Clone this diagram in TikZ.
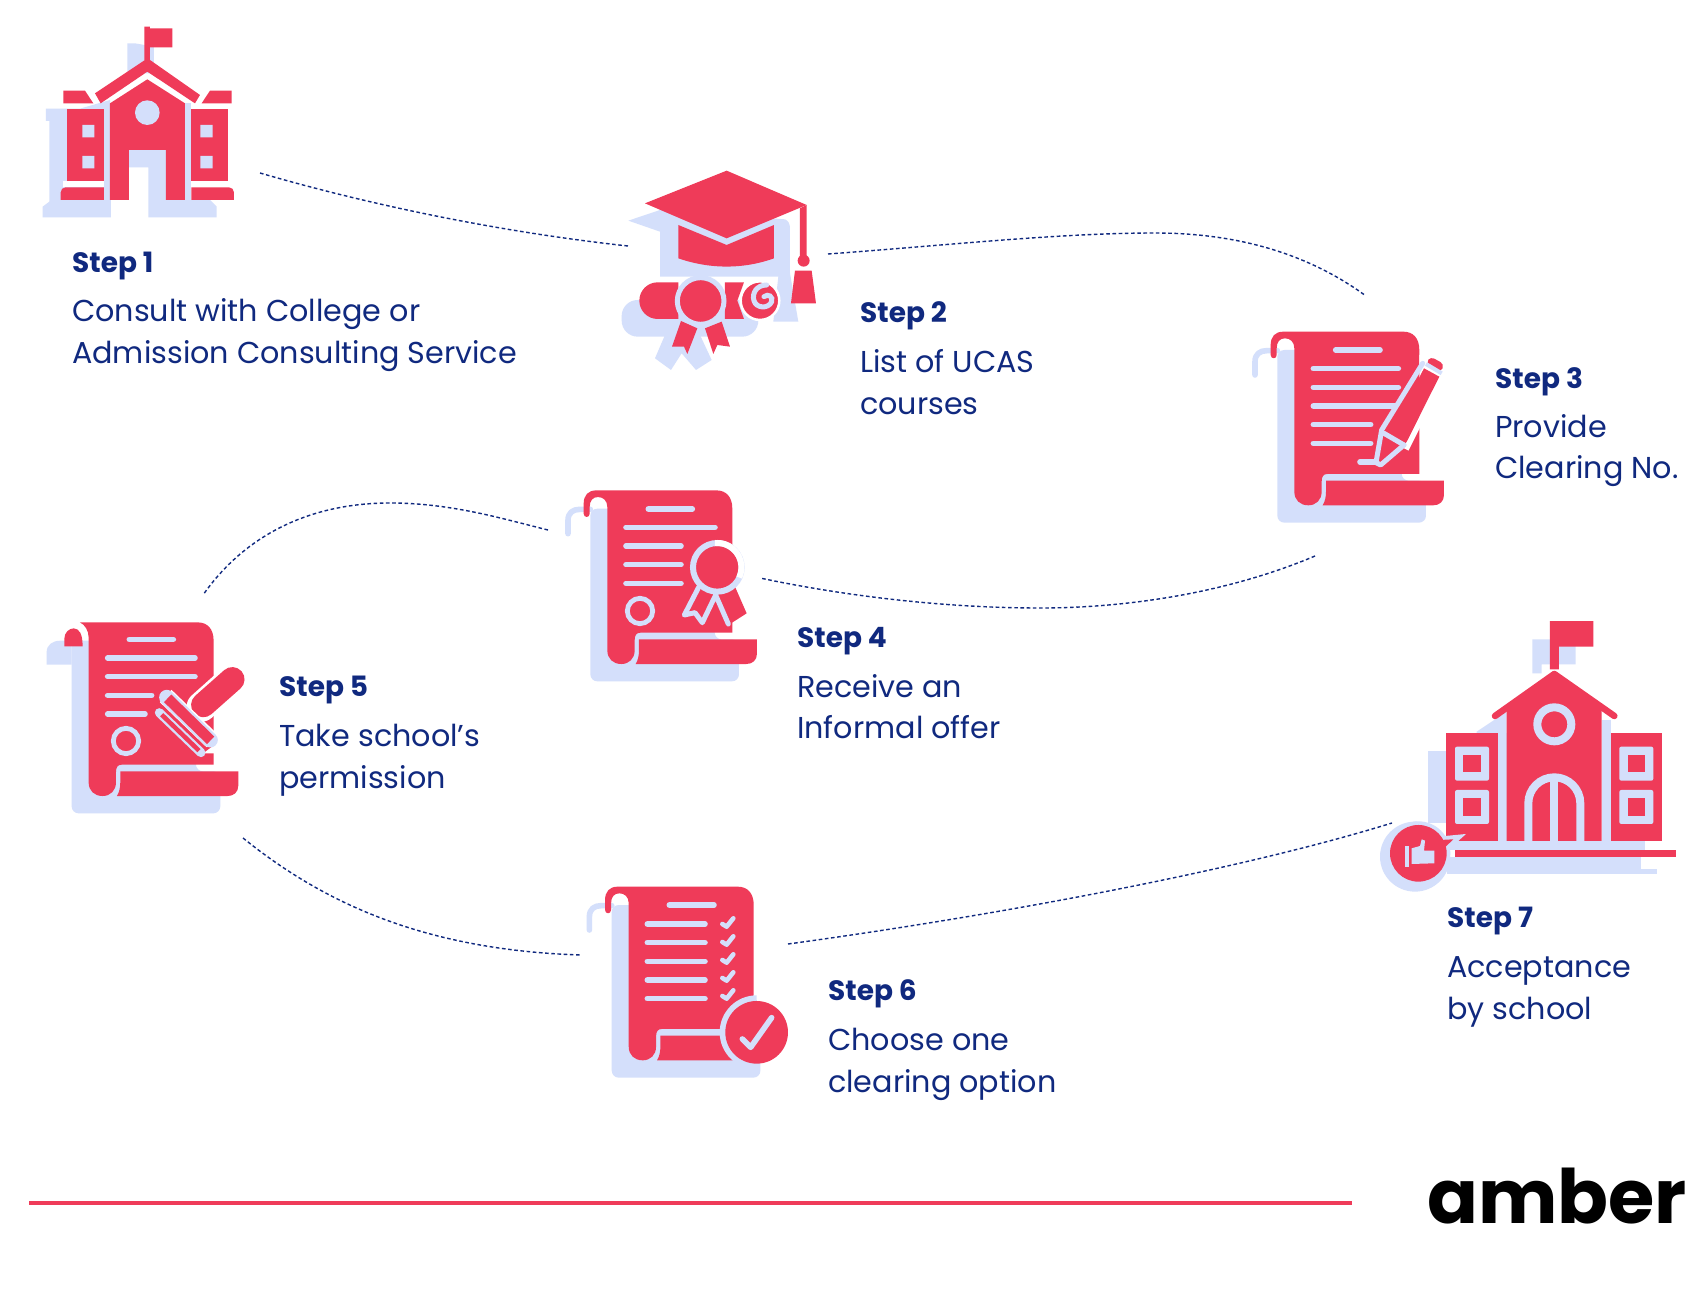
\documentclass[tikz,border=0pt]{standalone}
\usepackage{fontspec}
\setmainfont{Poppins}
\definecolor{rd}{HTML}{EF3B59}
\definecolor{pale}{HTML}{D4DFFB}
\definecolor{navy}{HTML}{10297F}
\tikzset{
  zu/.style={x=0.3333pt,y=-0.3333pt},
  stepname/.style={anchor=base west,inner sep=0pt,text=navy,font=\fontsize{28}{32}\selectfont\bfseries},
  stepline/.style={anchor=base west,inner sep=0pt,text=navy,font=\fontsize{30.2}{36}\selectfont},
  link/.style={draw=navy,line width=1.4pt,dash pattern=on 3.6pt off 2.6pt},
  pl/.style={draw=pale,line width=5.6pt,line cap=round,line join=round}
}
\newcommand\scrShadow{\fill[pale,rounded corners=7pt] (112,90) -- (112,608) -- (558,608) -- (558,482) -- (485,482) -- (485,90) -- cycle;}
\newcommand\scrCurl{\draw[pl] (45,165) -- (45,125) .. controls (45,102) and (60,92) .. (80,92) -- (112,92);}
\newcommand\scrFold{\fill[rd] (258,482) -- (612,482) -- (612,525) .. controls (612,545) and (598,556) .. (580,556) -- (248,556) .. controls (255,545) and (258,530) .. (258,515) -- cycle;}
\newcommand\scrLower{(490,35) .. controls (520,35) and (538,55) .. (538,90) -- (538,462) -- (262,462) .. controls (250,462) and (245,470) .. (245,485) -- (245,515) .. controls (245,540) and (228,556) .. (205,556) .. controls (180,556) and (163,540) .. (163,515)}
\newcommand\scrBodyA{\fill[rd] (92,105) -- (92,75) .. controls (92,50) and (105,35) .. (130,35) -- \scrLower -- (163,85) .. controls (163,65) and (150,55) .. (135,55) .. controls (120,55) and (110,65) .. (110,85) -- (110,105) .. controls (110,118) and (92,118) .. (92,105) -- cycle;}
\newcommand\scrBodyB{\fill[rd] (137,35) -- \scrLower -- (163,80) .. controls (163,60) and (152,42) .. (137,35) -- cycle;
 \fill[rd] (90,107) -- (90,85) .. controls (90,65) and (105,53) .. (118,53) .. controls (135,53) and (145,70) .. (145,107) -- cycle;}
\newcommand\hl[3]{\draw[pl] (#2,#1) -- (#3,#1);}
\begin{document}
\begin{tikzpicture}[x=1pt,y=-1pt]
\useasboundingbox (0,0) rectangle (1708,1297);
\fill[white] (0,0) rectangle (1708,1297);

% ---------- Step 1 icon
\begin{scope}[shift={(30,10)},zu]
\fill[pale] (292,100) -- (315,100) -- (372,110) -- (372,190) -- (292,190) -- cycle;
\fill[pale] (48,296) -- (150,296) -- (240,270) -- (243,622) -- (38,622) -- (38,590) -- (58,575) -- (58,333) -- (48,333) -- cycle;
\fill[pale] (297,420) -- (408,420) -- (408,570) -- (540,570) -- (560,590) -- (560,622) -- (355,622) -- (355,472) -- (297,472) -- cycle;
\fill[pale] (222,280) rectangle (240,570);
\fill[pale] (465,280) rectangle (483,570);
\fill[white] (100,513) rectangle (222,531);
\fill[white] (484,513) rectangle (605,531);
\fill[rd] (343,50) -- (360,50) -- (360,55) -- (427,55) -- (427,112) -- (360,112) -- (360,150) -- (343,150) -- cycle;
\fill[rd] (195,250) -- (345,150) -- (360,150) -- (510,255) -- (495,280) -- (352,185) -- (212,280) -- cycle;
\fill[rd] (240,280) -- (352,208) -- (465,280) -- (465,570) -- (408,570) -- (408,420) -- (297,420) -- (297,570) -- (240,570) -- cycle;
\fill[pale] (352,308) circle[radius=37];
\fill[rd] (100,242) -- (165,242) -- (190,280) -- (100,280) -- cycle;
\fill[rd] (605,242) -- (540,242) -- (515,280) -- (605,280) -- cycle;
\fill[rd] (110,298) rectangle (222,512);
\fill[rd] (484,298) rectangle (595,512);
\fill[pale] (157,345) rectangle (193,382) (157,438) rectangle (193,475) (511,345) rectangle (548,382) (511,438) rectangle (548,475);
\fill[rd] (92,570) [rounded corners=5pt] -- (92,532) [sharp corners] -- (222,532) -- (222,570) -- cycle;
\fill[rd] (484,570) -- (484,532) [rounded corners=5pt] -- (612,532) [sharp corners] -- (612,570) -- cycle;
\end{scope}

% ---------- Step 2 icon
\begin{scope}[shift={(610,150)},zu]
\fill[pale] (55,212) -- (150,180) -- (525,208) .. controls (535,212) and (540,222) .. (540,235) -- (540,370) -- (565,515) -- (490,515) -- (505,380) -- (150,380) -- (150,245) -- cycle;
\fill[pale,rounded corners=16pt] (35,450) rectangle (445,560);
\fill[pale] (165,555) -- (135,625) -- (183,660) -- (215,610) -- (258,660) -- (305,630) -- (270,555) -- cycle;
\fill[rd] (105,160) -- (350,62) -- (590,165) -- (350,265) -- cycle;
\fill[rd] (205,225) -- (350,285) -- (492,225) -- (492,325) .. controls (400,358) and (300,358) .. (205,325) -- cycle;
\fill[rd] (570,175) -- (590,165) -- (590,320) -- (570,320) -- cycle;
\fill[rd] (581,332) circle[radius=18];
\fill[rd] (555,362) -- (605,362) -- (618,460) -- (543,460) -- cycle;
\fill[rd] (205,397) -- (143,397) arc[start angle=270,end angle=90,radius=55] -- (205,507) -- cycle;
\fill[rd] (345,397) -- (402,397) -- (382,452) -- (402,507) -- (345,507) -- cycle;
\fill[rd] (213,513) -- (262,535) -- (232,612) -- (222,590) -- (186,590) -- cycle;
\fill[rd] (285,535) -- (335,515) -- (360,590) -- (322,585) -- (310,612) -- cycle;
\filldraw[draw=pale,line width=5pt,fill=rd] (272,453) circle[radius=70];
\filldraw[draw=white,line width=2.5pt,fill=rd] (450,452) circle[radius=58];
\draw[pale,line width=5pt,line cap=round] (470,405) .. controls (440,405) and (425,430) .. (432,452) .. controls (438,475) and (475,478) .. (485,455) .. controls (490,440) and (475,430) .. (462,440);
\end{scope}

% ---------- Step 3 icon
\begin{scope}[shift={(1240,320)},zu]
\scrShadow \scrCurl \scrBodyA \scrFold
\hl{90}{287}{420}\hl{146}{220}{475}\hl{202}{220}{475}\hl{258}{220}{465}\hl{314}{220}{392}\hl{370}{220}{392}\hl{426}{360}{410}
\fill[white] (538,105) -- (560,105) -- (545,135) -- (538,145) -- cycle;
\draw[white,line width=5.6pt] (610,165) -- (498,388);
\fill[rd] (452,340) -- (552,145) -- (598,170) -- (500,365) -- cycle;
\fill[rd,rounded corners=4pt] (558,128) -- (572,110) -- (612,132) -- (604,156) -- cycle;
\fill[rd] (432,345) -- (482,372) -- (420,425) -- cycle;
\draw[pl,line width=5pt] (548,130) -- (425,330) -- (408,428) -- (422,435) -- (492,375);
\draw[pl,line width=5pt] (432,340) -- (492,375);
\draw[pl,line width=4pt,line cap=butt] (558,132) -- (605,160);
\end{scope}

% ---------- Step 4 icon
\begin{scope}[shift={(555,480)},zu]
\begin{scope}[xshift=-2pt,yshift=1.3pt]
\scrShadow \scrCurl \scrBodyA \scrFold
\end{scope}
\hl{87}{280}{412}\hl{142}{213}{480}\hl{198}{213}{378}\hl{254}{213}{378}\hl{310}{213}{378}
\filldraw[draw=pale,line width=4.8pt,fill=rd] (255,393) circle[radius=38];
\fill[white] (534,175) rectangle (575,345);
\fill[rd] (430,320) -- (385,405) -- (420,400) -- (440,430) -- (480,345) -- cycle;
\fill[rd] (490,345) -- (525,432) -- (575,400) -- (540,320) -- cycle;
\draw[pl,line width=5pt] (432,320) -- (388,405) -- (420,398) -- (442,428) -- (482,345) -- (520,432);
\filldraw[draw=pale,line width=6pt,fill=rd] (487,262) circle[radius=73];
\draw[white,line width=6pt] (480,189) arc[start angle=265,end angle=385,radius=73];
\end{scope}

% ---------- Step 5 icon
\begin{scope}[shift={(35,610)},zu]
\begin{scope}[xshift=-0.7pt,yshift=-0.7pt]
\scrShadow
\fill[pale] (37,162) -- (37,125) .. controls (37,102) and (55,90) .. (78,90) -- (112,90) -- (112,162) -- cycle;
\scrBodyB \scrFold
\end{scope}
\hl{88}{283}{415}\hl{144}{218}{480}\hl{200}{218}{480}\hl{256}{218}{350}\hl{312}{218}{330}
\filldraw[draw=pale,line width=4.8pt,fill=rd] (273,393) circle[radius=38];
\fill[white] (537,165) rectangle (640,330);
\fill[white] (505,430) -- (545,400) -- (545,430) -- cycle;
\draw[white,line width=30pt,line cap=round] (500,290) -- (592,208);
\draw[rd,line width=24.5pt,line cap=round] (505,285) -- (592,208);
\draw[white,line width=17pt] (392,258) -- (532,393);
\draw[pale,line width=15pt,line cap=round] (395,262) -- (526,390);
\draw[rd,line width=10.5pt,line cap=butt] (398,265) -- (527,391);
\draw[pale,line width=9pt,line cap=round] (373,308) -- (498,428);
\draw[rd,line width=4.5pt,line cap=butt] (380,314) -- (492,422);
\end{scope}

% ---------- Step 6 icon
\begin{scope}[shift={(580,875)},zu]
\begin{scope}[xshift=-5.6pt]
\scrShadow \scrCurl \scrBodyA \scrFold
\end{scope}
\hl{90}{268}{402}\hl{147}{202}{375}\hl{203}{202}{375}\hl{259}{202}{375}\hl{315}{202}{375}\hl{371}{202}{375}
\foreach \yy in {0,54,108,162,216}{\draw[pale,line width=4.6pt,line cap=round,line join=round] (427,147+\yy) -- (440,155+\yy) -- (460,130+\yy);}
\fill[white] (550,482) rectangle (630,575);
\draw[pale,line width=6pt] (530,370) arc[start angle=270,end angle=90,radius=102];
\fill[rd] (530,472) circle[radius=94];
\draw[pale,line width=5.6pt,line cap=round,line join=round] (487,492) -- (512,517) -- (575,428);
\end{scope}

% ---------- Step 7 icon
\begin{scope}[shift={(1370,610)},zu]
\fill[pale] (487,88) -- (617,88) -- (617,163) -- (515,163) -- (515,190) -- (487,190) -- cycle;
\fill[pale] (320,365) -- (410,305) -- (410,425) -- (320,425) -- cycle;
\fill[pale] (175,423) rectangle (410,640);
\fill[pale] (385,370) rectangle (410,720);
\fill[pale] (695,330) rectangle (723,720);
\fill[pale] (723,420) rectangle (825,720);
\fill[pale] (225,693) rectangle (820,720);
\fill[pale] (230,740) rectangle (812,793);
\fill[pale] (812,778) rectangle (862,793);
\fill[rd] (540,33) -- (670,33) -- (670,110) -- (567,110) -- (567,178) -- (540,178) -- cycle;
\fill[rd] (410,300) -- (553,195) -- (695,300) -- (695,693) -- (410,693) -- cycle;
\draw[rd,line width=6.5pt,line cap=round,line join=round] (375,318) -- (553,192) -- (733,318);
\filldraw[draw=pale,line width=8pt,fill=rd] (553,343) circle[radius=51];
\draw[pale,line width=8pt] (475,693) -- (475,580) arc[start angle=180,end angle=360,radius=78] -- (631,693);
\draw[pale,line width=8pt] (553,500) -- (553,693);
\fill[rd] (228,370) rectangle (385,693);
\fill[rd] (723,370) rectangle (877,693);
\foreach \xx/\yy in {255/410,255/540,748/410,748/540}{
  \fill[pale,rounded corners=2pt] (\xx,\yy) rectangle ++(102,102);
  \fill[rd] (\xx+25,\yy+25) rectangle ++(52,52);
}
\fill[rd] (255,720) rectangle (917,742);
\fill[pale] (135,740) circle[radius=105];
\fill[pale] (205,680) -- (288,672) -- (235,720) -- cycle;
\fill[pale] (145,730) circle[radius=96];
\fill[rd] (145,730) circle[radius=85];
\fill[rd] (210,690) -- (250,688) -- (225,712) -- cycle;
\fill[pale] (105,708) rectangle (118,770);
\fill[pale] (125,715) -- (150,708) -- (155,688) -- (165,692) -- (162,722) -- (193,722) -- (193,760) -- (125,762) -- cycle;
\end{scope}

% ---------- Connectors
\coordinate (a1) at (260,173); \coordinate (b1) at (628,246);
\coordinate (a2) at (828,254); \coordinate (m2) at (1155,233); \coordinate (b2) at (1366,296);
\coordinate (a3) at (1315,556); \coordinate (m3) at (1040,608); \coordinate (b3) at (760,578);
\coordinate (a4) at (548,530); \coordinate (m4) at (390,503); \coordinate (b4) at (203,595);
\coordinate (a5) at (243,838); \coordinate (b5) at (581,955);
\coordinate (a6) at (788,944); \coordinate (b6) at (1392,823);
\draw[link] (a1) .. controls (370,205) and (500,232) .. (b1);
\draw[link] (a2) .. controls (950,245) and (1060,233) .. (m2) .. controls (1240,233) and (1310,255) .. (b2);
\draw[link] (a3) .. controls (1230,592) and (1130,608) .. (m3) .. controls (940,608) and (840,595) .. (b3);
\draw[link] (a4) .. controls (500,518) and (450,503) .. (m4) .. controls (310,503) and (245,535) .. (b4);
\draw[link] (a5) .. controls (320,900) and (420,950) .. (b5);
\draw[link] (a6) .. controls (1000,915) and (1240,870) .. (b6);

% ---------- Labels
\node[stepname] (s1) at (72,273) {Step 1};
\node[stepline] (s1a) at (72,322) {Consult with College or};
\node[stepline] (s1b) at (72,363) {Admission Consulting Service};
\node[stepname] (s2) at (860,323) {Step 2};
\node[stepline] (s2a) at (860,372) {List of UCAS};
\node[stepline] (s2b) at (860,414) {courses};
\node[stepname] (s3) at (1495,388) {Step 3};
\node[stepline] (s3a) at (1495,437) {Provide};
\node[stepline] (s3b) at (1495,478) {Clearing No.};
\node[stepname] (s4) at (797,647) {Step 4};
\node[stepline] (s4a) at (797,697) {Receive an};
\node[stepline] (s4b) at (797,738) {Informal offer};
\node[stepname] (s5) at (279,696) {Step 5};
\node[stepline] (s5a) at (279,746) {Take school’s};
\node[stepline] (s5b) at (279,788) {permission};
\node[stepname] (s6) at (828,1000) {Step 6};
\node[stepline] (s6a) at (828,1050) {Choose one};
\node[stepline] (s6b) at (828,1092) {clearing option};
\node[stepname] (s7) at (1447,927) {Step 7};
\node[stepline] (s7a) at (1447,977) {Acceptance};
\node[stepline] (s7b) at (1447,1019) {by school};

% ---------- Footer
\coordinate (r1) at (29,1203); \coordinate (r2) at (1352,1203);
\draw[rd,line width=4pt] (r1) -- (r2);
\node[anchor=base west,inner sep=0pt,text=black,font=\fontsize{75}{90}\selectfont\bfseries] (logo) at (1427,1223) {amber};
\end{tikzpicture}
\end{document}
